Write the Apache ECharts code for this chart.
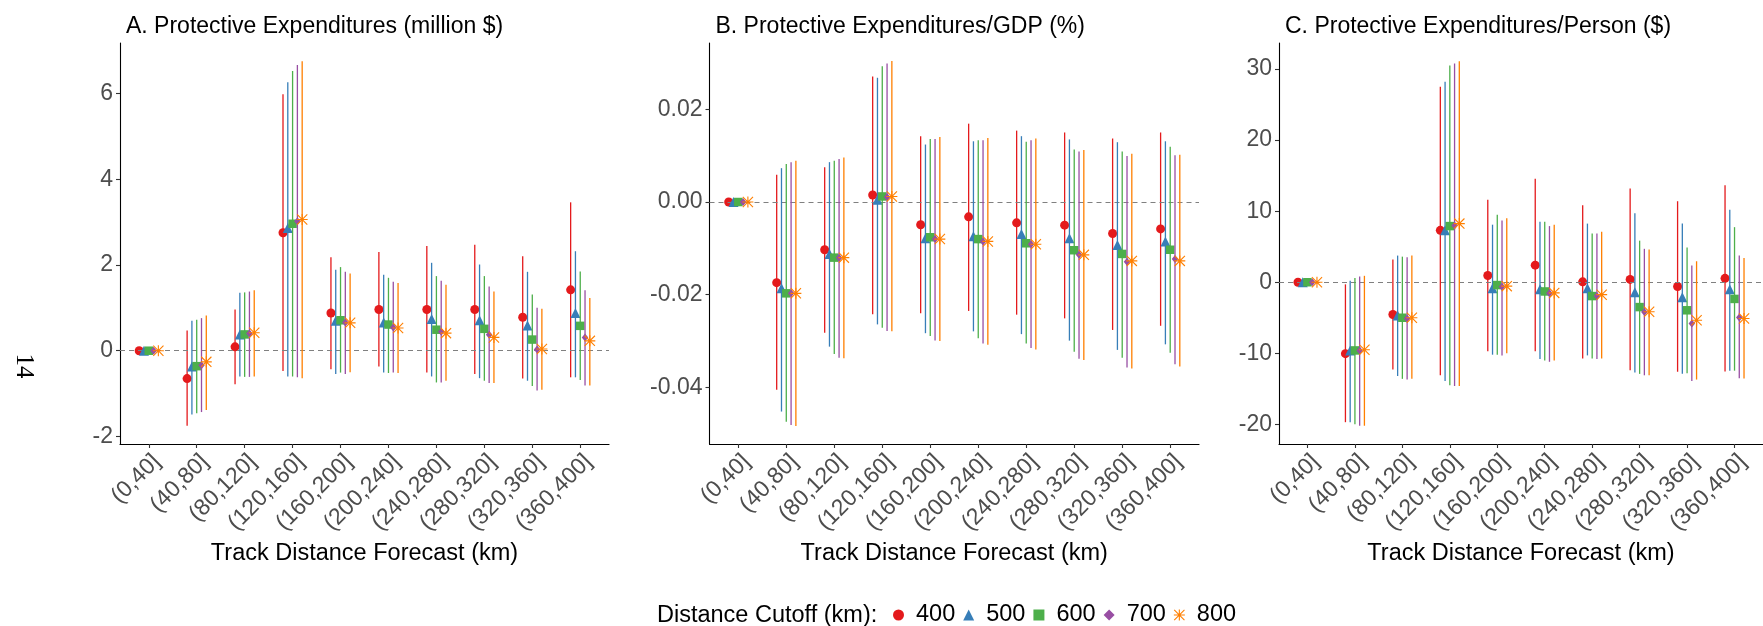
<!DOCTYPE html>
<html>
<head>
<meta charset="utf-8">
<script src="https://cdn.jsdelivr.net/npm/echarts@6/dist/echarts.min.js"></script>
<style>
  html, body { margin: 0; padding: 0; background: #fff; }
  #chart { width: 1763px; height: 626px; }
</style>
</head>
<body>
<div id="chart"></div>
<script>
// categories and legend
const CATS = ["(0,40]", "(40,80]", "(80,120]", "(120,160]", "(160,200]",
  "(200,240]", "(240,280]", "(280,320]", "(320,360]", "(360,400]"];
const CUTOFFS = ["400", "500", "600", "700", "800"];

// A. Protective Expenditures (million $) — rows: cutoff 400..800
const A_EST = [
  [0, -0.65, 0.09, 2.75, 0.88, 0.96, 0.96, 0.96, 0.78, 1.42],
  [0, -0.37, 0.38, 2.86, 0.70, 0.66, 0.74, 0.71, 0.59, 0.88],
  [0, -0.36, 0.38, 2.96, 0.71, 0.61, 0.49, 0.51, 0.26, 0.58],
  [0, -0.34, 0.40, 3.02, 0.66, 0.54, 0.44, 0.37, 0.03, 0.31],
  [0, -0.26, 0.42, 3.06, 0.65, 0.53, 0.41, 0.31, 0.04, 0.23]
];
const A_LO = [
  [-0.02, -1.75, -0.78, -0.47, -0.43, -0.37, -0.51, -0.54, -0.65, -0.62],
  [-0.02, -1.49, -0.60, -0.60, -0.54, -0.51, -0.60, -0.64, -0.70, -0.62],
  [-0.02, -1.46, -0.61, -0.60, -0.51, -0.52, -0.74, -0.70, -0.82, -0.68],
  [-0.02, -1.43, -0.61, -0.62, -0.54, -0.51, -0.74, -0.75, -0.93, -0.81],
  [-0.02, -1.38, -0.60, -0.64, -0.50, -0.52, -0.70, -0.75, -0.91, -0.81]
];
const A_HI = [
  [0.02, 0.47, 0.96, 5.98, 2.18, 2.30, 2.44, 2.47, 2.20, 3.46],
  [0.02, 0.70, 1.35, 6.26, 1.89, 1.77, 2.05, 2.01, 1.84, 2.32],
  [0.02, 0.72, 1.36, 6.52, 1.95, 1.70, 1.74, 1.74, 1.31, 1.85],
  [0.02, 0.76, 1.38, 6.66, 1.84, 1.61, 1.63, 1.50, 1.00, 1.41],
  [0.02, 0.82, 1.41, 6.75, 1.80, 1.58, 1.54, 1.38, 0.98, 1.23]
];
const A_TICKS = [-2, 0, 2, 4, 6];

// B. Protective Expenditures/GDP (%)
const B_EST = [
  [0, -0.0174, -0.0103, 0.0015, -0.0049, -0.0032, -0.0045, -0.0050, -0.0068, -0.0058],
  [0, -0.0186, -0.0112, 0.0005, -0.0078, -0.0074, -0.0069, -0.0078, -0.0093, -0.0085],
  [0, -0.0197, -0.0120, 0.0012, -0.0076, -0.0080, -0.0089, -0.0104, -0.0112, -0.0103],
  [0, -0.0197, -0.0120, 0.0011, -0.0080, -0.0085, -0.0091, -0.0114, -0.0129, -0.0123],
  [0, -0.0197, -0.0120, 0.0012, -0.0080, -0.0085, -0.0091, -0.0114, -0.0127, -0.0127]
];
const B_LO = [
  [-0.0001, -0.0405, -0.0282, -0.0242, -0.0240, -0.0235, -0.0243, -0.0251, -0.0276, -0.0267],
  [-0.0001, -0.0452, -0.0312, -0.0264, -0.0283, -0.0279, -0.0285, -0.0299, -0.0319, -0.0307],
  [-0.0001, -0.0474, -0.0328, -0.0271, -0.0289, -0.0294, -0.0305, -0.0323, -0.0336, -0.0325],
  [-0.0001, -0.0481, -0.0336, -0.0278, -0.0299, -0.0305, -0.0315, -0.0338, -0.0357, -0.0350],
  [-0.0001, -0.0483, -0.0337, -0.0279, -0.0300, -0.0308, -0.0318, -0.0341, -0.0359, -0.0355]
];
const B_HI = [
  [0.0001, 0.0059, 0.0075, 0.0271, 0.0142, 0.0169, 0.0154, 0.0150, 0.0137, 0.0150],
  [0.0001, 0.0073, 0.0086, 0.0268, 0.0124, 0.0131, 0.0142, 0.0135, 0.0129, 0.0131],
  [0.0001, 0.0082, 0.0089, 0.0293, 0.0136, 0.0133, 0.0130, 0.0113, 0.0109, 0.0119],
  [0.0001, 0.0086, 0.0093, 0.0299, 0.0136, 0.0133, 0.0133, 0.0109, 0.0099, 0.0101],
  [0.0001, 0.0089, 0.0096, 0.0304, 0.0140, 0.0138, 0.0137, 0.0112, 0.0104, 0.0102]
];
const B_TICKS = [-0.04, -0.02, 0, 0.02];

// C. Protective Expenditures/Person ($)
const C_EST = [
  [0, -10.05, -4.55, 7.3, 0.94, 2.4, 0.05, 0.4, -0.6, 0.55],
  [0, -9.6, -4.7, 7.3, -0.85, -1.0, -0.85, -1.4, -2.1, -1.0],
  [0, -9.6, -5.0, 7.9, -0.4, -1.3, -1.95, -3.5, -3.95, -2.35],
  [0, -9.6, -5.1, 8.0, -0.65, -1.55, -1.95, -4.2, -5.8, -4.95],
  [0, -9.5, -5.0, 8.25, -0.55, -1.5, -1.75, -4.15, -5.35, -5.1]
];
const C_LO = [
  [-0.1, -19.7, -12.3, -13.1, -9.7, -9.7, -10.75, -12.4, -12.6, -12.55],
  [-0.1, -19.7, -13.2, -13.9, -10.2, -10.8, -10.3, -12.7, -12.9, -12.45],
  [-0.1, -20.0, -13.6, -14.5, -10.2, -11.0, -10.75, -12.9, -12.8, -12.45],
  [-0.1, -20.2, -13.7, -14.6, -10.3, -11.2, -10.8, -13.1, -13.9, -13.5],
  [-0.1, -20.2, -13.6, -14.6, -10.0, -11.0, -10.75, -13.1, -13.7, -13.55]
];
const C_HI = [
  [0.1, -0.3, 3.2, 27.5, 11.6, 14.55, 10.85, 13.2, 11.4, 13.65],
  [0.1, 0.2, 3.75, 28.2, 8.1, 8.5, 8.25, 9.7, 8.25, 10.2],
  [0.1, 0.6, 3.6, 30.5, 9.5, 8.5, 6.85, 5.85, 4.9, 7.75],
  [0.1, 0.8, 3.5, 30.8, 8.7, 7.9, 6.85, 4.7, 2.35, 3.75],
  [0.1, 0.9, 3.75, 31.1, 9.0, 8.1, 7.1, 4.6, 2.95, 3.4]
];
const C_TICKS = [-20, -10, 0, 10, 20, 30];

const COLORS = ["#E41A1C", "#377EB8", "#4DAF4A", "#984EA3", "#FF7F00"];
const STAR = "path://M0 9L20 9L20 11L0 11Z M9 0L11 0L11 20L9 20Z M1.4 0L20 18.6L18.6 20L0 1.4Z M18.6 0L20 1.4L1.4 20L0 18.6Z";
const SYMBOLS = ["circle", "triangle", "rect", "diamond", STAR];
const SYMBOL_SIZES = [9, 10, 8.5, [6.5, 8], 11];
const OFFSETS = [-0.2, -0.1, 0, 0.1, 0.2];

const FONT = "'Liberation Sans', Arial, sans-serif";
const TICK_GREY = "#4D4D4D";

const panels = [
  { title: "A. Protective Expenditures (million $)", est: A_EST, lo: A_LO, hi: A_HI,
    ticks: A_TICKS, min: -2.175, max: 7.175, fmt: v => String(v), left: 120, width: 489 },
  { title: "B. Protective Expenditures/GDP (%)", est: B_EST, lo: B_LO, hi: B_HI,
    ticks: B_TICKS, min: -0.0522, max: 0.0343, fmt: v => v.toFixed(2), left: 709.5, width: 489.5 },
  { title: "C. Protective Expenditures/Person ($)", est: C_EST, lo: C_LO, hi: C_HI,
    ticks: C_TICKS, min: -22.77, max: 33.67, fmt: v => String(v), left: 1279, width: 490 }
];

const chart = echarts.init(document.getElementById("chart"), null, { renderer: "canvas" });

const grid = [], xAxis = [], yAxis = [], title = [], series = [];

panels.forEach((p, pi) => {
  grid.push({ left: p.left, top: 43, width: p.width, height: 401 });
  title.push({
    text: p.title, left: p.left + 1, top: 10,
    textStyle: { fontFamily: FONT, fontSize: 23, fontWeight: "normal", color: "#000" }
  });
  xAxis.push({
    gridIndex: pi, type: "value", min: -0.6, max: 9.6,
    name: "Track Distance Forecast (km)", nameLocation: "middle", nameGap: 94,
    nameTextStyle: { fontFamily: FONT, fontSize: 23.5, color: "#000", verticalAlign: "top" },
    axisLine: { show: true, onZero: false, lineStyle: { color: "#000", width: 1.1 } },
    axisTick: { show: true, length: 4, customValues: CATS.map((c, i) => i), lineStyle: { color: "#333", width: 1.1 } },
    axisLabel: {
      customValues: CATS.map((c, i) => i), rotate: 45, margin: 6,
      align: "right", verticalAlign: "top",
      formatter: v => CATS[Math.round(v)],
      fontFamily: FONT, fontSize: 23, color: TICK_GREY
    },
    splitLine: { show: false }
  });
  yAxis.push({
    gridIndex: pi, type: "value", min: p.min, max: p.max,
    axisLine: { show: true, onZero: false, lineStyle: { color: "#000", width: 1.1 } },
    axisTick: { show: true, length: 4, customValues: p.ticks, lineStyle: { color: "#333", width: 1.1 } },
    axisLabel: {
      customValues: p.ticks, margin: 7, formatter: v => p.fmt(v),
      fontFamily: FONT, fontSize: 23, color: TICK_GREY
    },
    splitLine: { show: false }
  });

  CUTOFFS.forEach((name, k) => {
    const barData = CATS.map((c, i) => [i + OFFSETS[k], p.lo[k][i], p.hi[k][i]]);
    const pointData = CATS.map((c, i) => [i + OFFSETS[k], p.est[k][i]]);
    const bars = {
      name, type: "custom", xAxisIndex: pi, yAxisIndex: pi, z: 3 + k * 2,
      itemStyle: { color: COLORS[k] },
      encode: { x: 0, y: [1, 2] },
      data: barData,
      renderItem: (params, api) => {
        const a = api.coord([api.value(0), api.value(1)]);
        const b = api.coord([api.value(0), api.value(2)]);
        return {
          type: "line",
          shape: { x1: a[0], y1: a[1], x2: b[0], y2: b[1] },
          style: { stroke: COLORS[k], lineWidth: 1.3 }
        };
      }
    };
    if (k === 0) {
      bars.markLine = {
        silent: true, symbol: "none", label: { show: false },
        lineStyle: { type: [5, 4], color: "#808080", width: 1.1 },
        data: [{ yAxis: 0 }]
      };
    }
    series.push(bars);
    series.push({
      name, type: "scatter", xAxisIndex: pi, yAxisIndex: pi, z: 4 + k * 2,
      symbol: SYMBOLS[k], symbolSize: SYMBOL_SIZES[k],
      itemStyle: { color: COLORS[k], opacity: 1 },
      data: pointData
    });
  });
});

chart.setOption({
  animation: false,
  title,
  grid, xAxis, yAxis, series,
  legend: {
    left: 893, top: 603, padding: 0,
    itemWidth: 11, itemHeight: 11, itemGap: 8,
    textStyle: { fontFamily: FONT, fontSize: 23.5, color: "#000", padding: [0, 0, 0, 7] },
    data: CUTOFFS.map((n, k) => ({ name: n, icon: SYMBOLS[k], itemStyle: { color: COLORS[k] } }))
  },
  graphic: [
    {
      type: "text", x: 657, y: 616,
      style: { text: "Distance Cutoff (km):", font: "23.5px " + FONT, fill: "#000", verticalAlign: "middle" }
    },
    {
      type: "text", x: 23.5, y: 366, rotation: -Math.PI / 2,
      style: { text: "14", font: "25px 'Liberation Serif', serif", fill: "#000", align: "center", verticalAlign: "middle" }
    }
  ]
});

window.addEventListener("resize", () => chart.resize());
</script>
</body>
</html>
